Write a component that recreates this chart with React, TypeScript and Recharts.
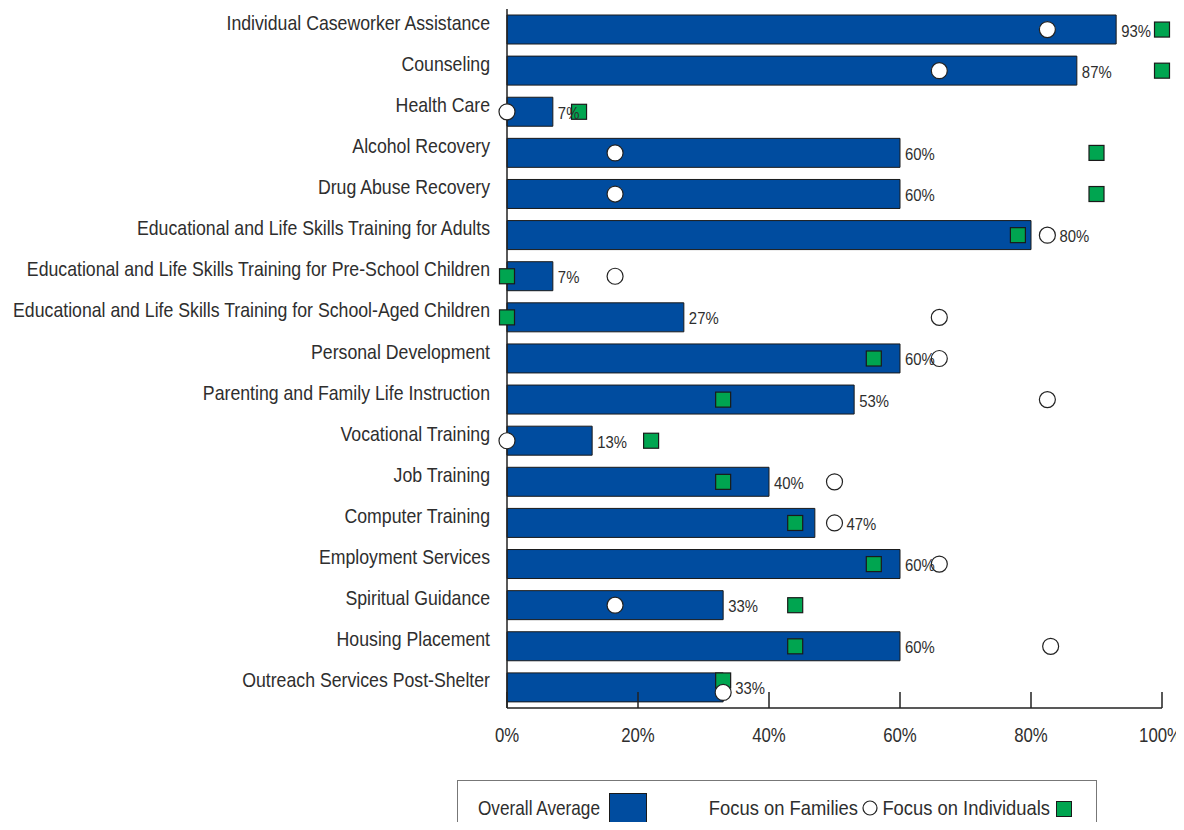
import { Bar, ComposedChart, LabelList, Line, XAxis, YAxis } from "recharts";

const services = [
  "Individual Caseworker Assistance",
  "Counseling",
  "Health Care",
  "Alcohol Recovery",
  "Drug Abuse Recovery",
  "Educational and Life Skills Training for Adults",
  "Educational and Life Skills Training for Pre-School Children",
  "Educational and Life Skills Training for School-Aged Children",
  "Personal Development",
  "Parenting and Family Life Instruction",
  "Vocational Training",
  "Job Training",
  "Computer Training",
  "Employment Services",
  "Spiritual Guidance",
  "Housing Placement",
  "Outreach Services Post-Shelter",
];

// overall average (bars)
const overallAverage = [93, 87, 7, 60, 60, 80, 7, 27, 60, 53, 13, 40, 47, 60, 33, 60, 33];
// focus on families (circles)
const focusFamilies = [82.5, 66, 0, 16.5, 16.5, 82.5, 16.5, 66, 66, 82.5, 0, 50, 50, 66, 16.5, 83, 33];
// focus on individuals (squares)
const focusIndividuals = [100, 100, 11, 90, 90, 78, 0, 0, 56, 33, 22, 33, 44, 56, 44, 44, 33];

const xTicks = [0, 20, 40, 60, 80, 100];

const data = services.map((name, i) => ({
  name,
  overall: overallAverage[i],
  families: focusFamilies[i],
  individuals: focusIndividuals[i],
}));

const FONT = "'Liberation Sans', Arial, sans-serif";
const BLUE = "#004c9f";
const GREEN = "#00a550";
const TEXT = "#2e2e2e";

// plot geometry (used only to turn a value into pixels for label collision)
const PLOT_LEFT = 507;
const PLOT_W = 655;

// condensed text: regular sans squeezed horizontally
const Narrow = ({ x, y, anchor, size, sx = 0.876, children }: any) => (
  <text
    transform={`translate(${x},${y}) scale(${sx},1)`}
    textAnchor={anchor}
    fontSize={size}
    fill={TEXT}
    fontFamily={FONT}
  >
    {children}
  </text>
);

const XTick = (props: any) => {
  const { x, y, payload } = props;
  const last = payload.value === xTicks[xTicks.length - 1];
  return (
    <g>
      <line x1={x} x2={x} y1={y - 16} y2={y} stroke="#222" strokeWidth={1.5} />
      {last ? (
        <Narrow x={1182} y={y + 34} anchor="end" size={20} sx={0.84}>{`${payload.value}%`}</Narrow>
      ) : (
        <Narrow x={x} y={y + 34} anchor="middle" size={20} sx={0.84}>{`${payload.value}%`}</Narrow>
      )}
    </g>
  );
};

const YTick = (props: any) => {
  const { x, y, payload } = props;
  return <Narrow x={x} y={y} anchor="end" size={20} sx={0.885}>{payload.value}</Narrow>;
};

// value label: pushed past the family circle when it sits right at the bar end
const ValueLabel = (props: any) => {
  const { x, y, width, height, value, index } = props;
  const end = x + width;
  const fam = PLOT_LEFT + (focusFamilies[index] / 100) * PLOT_W;
  let lx = end + 5;
  if (fam - end > -10 && fam - end < 25) lx = Math.max(lx, fam + 12);
  return <Narrow x={lx} y={y + height / 2 + 7} anchor="start" size={17}>{`${value}%`}</Narrow>;
};

const Circle = (props: any) => {
  const { cx, cy, payload } = props;
  if (cx == null || cy == null) return null;
  const dy = payload.families === payload.individuals ? 5 : 0;
  return <circle cx={cx} cy={cy + dy} r={8} fill="#fff" stroke="#222" strokeWidth={1.2} />;
};

const Square = (props: any) => {
  const { cx, cy, payload } = props;
  if (cx == null || cy == null) return null;
  const dy = payload.families === payload.individuals ? -7 : 0;
  return (
    <rect x={cx - 7.5} y={cy - 7.5 + dy} width={15} height={15} fill={GREEN} stroke="#1a1a1a" strokeWidth={1.2} />
  );
};

export default function App() {
  return (
    <div style={{ position: "relative", width: 1184, height: 830, margin: -8, background: "#fff", overflow: "hidden" }}>
      <ComposedChart
        width={1184}
        height={830}
        data={data}
        layout="vertical"
        margin={{ top: 9, right: 22, bottom: 82, left: 0 }}
      >
        <XAxis
          type="number"
          domain={[0, 100]}
          ticks={xTicks}
          tick={<XTick />}
          tickSize={0}
          tickMargin={0}
          tickLine={false}
          axisLine={{ stroke: "#222", strokeWidth: 1.5 }}
          height={40}
          interval={0}
        />
        <YAxis
          type="category"
          dataKey="name"
          width={507}
          tick={<YTick />}
          tickSize={0}
          tickMargin={17}
          tickLine={false}
          axisLine={{ stroke: "#222", strokeWidth: 1.5 }}
          interval={0}
        />
        <Bar dataKey="overall" barSize={29} fill={BLUE} stroke="#1a1a1a" strokeWidth={1} isAnimationActive={false}>
          <LabelList dataKey="overall" content={<ValueLabel />} />
        </Bar>
        <Line dataKey="individuals" stroke="none" dot={<Square />} activeDot={false} isAnimationActive={false} />
        <Line dataKey="families" stroke="none" dot={<Circle />} activeDot={false} isAnimationActive={false} />
      </ComposedChart>
      <svg width={640} height={50} style={{ position: "absolute", left: 457, top: 780 }}>
        <rect x={0.5} y={0.5} width={639} height={70} fill="none" stroke="#777" strokeWidth={1} />
        <Narrow x={21} y={35} anchor="start" size={20} sx={0.86}>Overall Average</Narrow>
        <rect x={152.5} y={13.5} width={37} height={29} fill={BLUE} stroke="#1a1a1a" strokeWidth={1} />
        <Narrow x={401} y={35} anchor="end" size={20} sx={0.92}>Focus on Families</Narrow>
        <circle cx={413} cy={28} r={7} fill="#fff" stroke="#222" strokeWidth={1.2} />
        <Narrow x={593} y={35} anchor="end" size={20} sx={0.92}>Focus on Individuals</Narrow>
        <rect x={599.5} y={21.5} width={15} height={15} fill={GREEN} stroke="#1a1a1a" strokeWidth={1} />
      </svg>
    </div>
  );
}
